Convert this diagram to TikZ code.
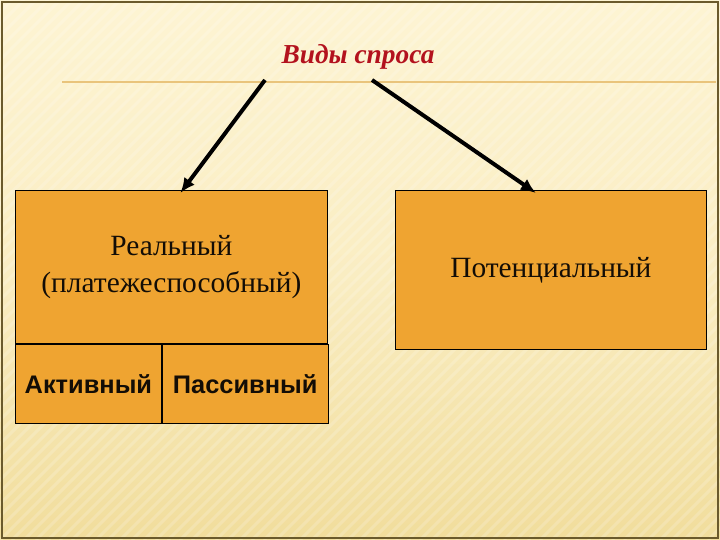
\documentclass[tikz,border=0pt]{standalone}
\usepackage{fontspec}
\setmainfont{Liberation Serif}
\newfontfamily\boxsans{Liberation Sans}
\usetikzlibrary{arrows.meta,positioning}

\definecolor{paper}{HTML}{FDF4D3}
\definecolor{paperlow}{HTML}{F1DD9C}
\definecolor{boxfill}{HTML}{EFA431}
\definecolor{titlered}{HTML}{B3121E}
\definecolor{rulegold}{HTML}{E9C47C}
\definecolor{frameline}{HTML}{6A5A2C}

\tikzset{
  kindbox/.style={draw=black, line width=0.8pt, fill=boxfill, rectangle,
    inner sep=0pt, align=center, font=\fontsize{29.5}{37}\selectfont, text=black!90!brown},
  cellbox/.style={kindbox, minimum height=79bp, font=\boxsans\bfseries\fontsize{25.5}{30}\selectfont},
  kindarrow/.style={line width=4pt, -{Latex[length=15bp,width=13bp]}}
}

\begin{document}
\begin{tikzpicture}[x=1bp, y=-1bp]
  \useasboundingbox (0,0) rectangle (720,540);
  % background
  \shade[top color=paper, bottom color=paperlow, middle color=paper!70!paperlow] (0,0) rectangle (720,540);
  \foreach \s in {0,12,...,1260}
    \draw[white, opacity=0.18, line width=3bp] (\s-540,540) -- (\s,0);
  \draw[frameline, line width=1.5bp] (2,2) rectangle (718,538);
  \draw[rulegold, line width=2bp] (62,82) -- (716,82);

  % title
  \node (title) at (358,57) {\color{titlered}\bfseries\itshape\fontsize{27.5}{32}\selectfont Виды спроса};
  \coordinate (tl) at (265,80);
  \coordinate (tr) at (372,80);

  % boxes
  \node (real) [kindbox, minimum width=312bp, minimum height=153bp, anchor=north west]
    at (15,190) {Реальный\\(платежеспособный)};
  \node (active) [cellbox, minimum width=146bp, anchor=north west] at (real.south west) {Активный};
  \node (passive) [cellbox, minimum width=166bp, anchor=north west] at (active.north east) {Пассивный};
  \node (pot) [kindbox, minimum width=311bp, minimum height=159bp, anchor=north west]
    at (395,190) {Потенциальный};

  % arrows
  \draw[kindarrow] (tl) -- ([xshift=9bp,yshift=-3bp]real.north);
  \draw[kindarrow] (tr) -- ([xshift=-15bp,yshift=-3bp]pot.north);
\end{tikzpicture}
\end{document}
